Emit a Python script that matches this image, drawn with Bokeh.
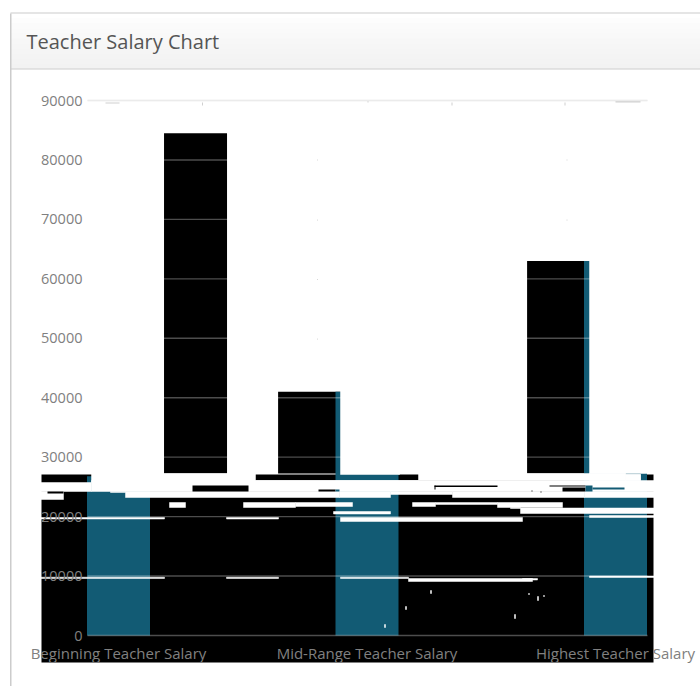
from bokeh.plotting import figure
from bokeh.models import Range1d, FixedTicker, Label
from bokeh.embed import file_html
from bokeh.resources import INLINE

# ---- chart data
categories = ["Beginning Teacher Salary", "Mid-Range Teacher Salary", "Highest Teacher Salary"]
y_ticks = [0, 10000, 20000, 30000, 40000, 50000, 60000, 70000, 80000, 90000]
teal_positions = [0, 1, 2]
teal_values = [26800, 41000, 63000]
dark_positions = [0.31, 0.769, 1.771]
dark_values = [84500, 41000, 63000]
dark_base = 27250

# ---- page geometry (px in the window)
FIG_W, FIG_H = 700, 686
PAGE = 0
X0_PX, UNIT_PX = 118.0, 248.5     # category 0 and distance between categories
Y0_PX, Y90_PX = 635.0, 100.0      # value 0 and value 90000
def X(px): return (px - X0_PX) / UNIT_PX
def Y(py): return (Y0_PX - py) * 90000 / (Y0_PX - Y90_PX)

p = figure(width=FIG_W, height=FIG_H, output_backend="svg", toolbar_location=None,
           x_range=Range1d(X(PAGE), X(PAGE + FIG_W)), y_range=Range1d(Y(PAGE + FIG_H), Y(PAGE)),
           min_border=0, outline_line_color=None, background_fill_color="white", border_fill_color="white")

def boxes(rows, color, alpha=1.0, seal=0.0):
    p.quad(left=[X(r[0]) for r in rows], right=[X(r[1]) for r in rows],
           top=[Y(r[2]) for r in rows], bottom=[Y(r[3]) for r in rows],
           fill_color=color, fill_alpha=alpha,
           line_color=color if seal else None, line_width=seal or 1)

# ---- panel frame and header
header_cols = ["#ffffff", "#fdfdfd", "#fbfbfb", "#fafafa", "#f9f9f9", "#f7f7f7", "#f6f6f6", "#f5f5f5", "#f4f4f4", "#f3f3f3", "#f2f2f2"]
for i, col in enumerate(header_cols):
    boxes([(10, 700, 13 + i * 5, 13 + (i + 1) * 5)], col, seal=0.5)
boxes([(10, 700, 12, 13), (10, 700, 68, 69), (9.5, 11, 13, 686)], "#cccccc")

# ---- corrupted black band behind the lower part
boxes([(41, 653, 474, 662)], "#000000")

# ---- series (teal painted over the dark bars, as in the picture)
w = 63 / UNIT_PX
p.vbar(x=dark_positions, top=dark_values, bottom=dark_base, width=w, fill_color="#000000", line_color=None)
p.vbar(x=teal_positions, top=teal_values, bottom=0, width=w, fill_color="#125B74", line_color=None)

# ---- white corruption stripes
white_rows = [
    (340, 399, 385, 474), (589, 648, 255, 473), (589, 625, 473, 480), (625, 640, 474, 480),
    (91, 255, 473, 482), (418, 625, 473, 480), (625, 640, 474, 480), (255, 418, 480, 482),
    (91, 654, 480, 491), (40, 91, 482, 491),
    (40, 63, 491, 499), (110, 125, 491, 492), (125, 339, 491, 497), (339, 390, 491, 497),
    (390, 452, 491, 494), (452, 584, 491, 497), (584, 654, 491, 497),
    (169, 185, 502, 507), (243, 295, 502, 507), (295, 352, 502, 506), (412, 435, 502, 506),
    (435, 497, 502, 504), (497, 562, 502, 507), (510, 520, 507, 508), (520, 654, 507.5, 513),
    (333, 390, 511, 513.5), (340, 522, 517, 521), (40, 164, 517, 518.5), (226, 278, 517, 518.5),
    (589, 654, 515, 517), (40, 164, 576.7, 578), (226, 278, 576.7, 578), (340, 408, 576.7, 578),
    (408, 532, 578, 581), (522, 537, 578, 579.5), (589, 654, 575.5, 577),
    (405, 406, 606, 609), (430, 431, 590, 593), (384, 385, 624, 627), (514, 515, 614, 618),
    (528, 529, 593, 594), (537, 538, 596, 600), (543, 544, 595, 596),
]
boxes(white_rows, "#ffffff", seal=0.5)

# ---- islands left in the white stripes
boxes([(47, 63, 491, 493), (192, 248, 485, 491), (318, 335, 489, 491), (434, 497, 485, 486.5),
       (434, 435, 485, 489), (562, 585, 487, 491), (549, 585, 485, 486), (540, 541, 491, 492),
       (531, 532, 490, 491)], "#000000")
boxes([(335, 339, 489, 491), (585, 592, 485, 491), (592, 624, 487, 489)], "#125B74")

# ---- faint specks near the top line
boxes([(105, 119, 102, 103), (615, 640, 100.5, 102), (201.5, 202.5, 102, 105), (451, 452, 102, 105),
       (564, 565, 102, 105), (367, 368, 100, 102), (316.5, 317.5, 159, 160), (316.5, 317.5, 219, 220),
       (566, 567, 159, 160), (566, 567, 219, 220), (316.5, 317.5, 278.5, 279.5), (316.5, 317.5, 338, 339)],
      "#d0d0d0")
p.segment(x0=[X(87)], x1=[X(647)], y0=[y_ticks[-1]], y1=[y_ticks[-1]], line_color="#e2e2e2", line_width=1.5)

# ---- axes
xa = p.xaxis[0]
xa.ticker = FixedTicker(ticks=teal_positions)
xa.major_label_overrides = {i: c for i, c in zip(teal_positions, categories)}
xa.fixed_location = 0
xa.major_label_standoff = 7
ya = p.yaxis[0]
ya.ticker = FixedTicker(ticks=y_ticks)
ya.fixed_location = X(87)
ya.major_label_standoff = 5
ya.formatter.use_scientific = False
for ax, size in ((xa, "15px"), (ya, "14.5px")):
    ax.axis_line_color = None
    ax.major_tick_line_color = None
    ax.minor_tick_line_color = None
    ax.major_tick_out = 0
    ax.major_tick_in = 0
    ax.major_label_text_font = "Open Sans"
    ax.major_label_text_font_size = size
    ax.major_label_text_color = "#808080"

# ---- grid over the bars: shows grey on black, vanishes on white
p.xgrid.visible = False
p.ygrid.visible = False
p.segment(x0=[X(87)] * len(y_ticks), x1=[X(647)] * len(y_ticks), y0=y_ticks, y1=y_ticks,
          line_color="#ffffff", line_alpha=0.3, line_width=1.4, level="overlay")

# ---- panel title
p.add_layout(Label(x=X(26), y=Y(41), text="Teacher Salary Chart", text_font="Open Sans",
                   text_font_size="20px", text_color="#555555", text_baseline="middle"))

open("out.html", "w").write(file_html(p, INLINE))
